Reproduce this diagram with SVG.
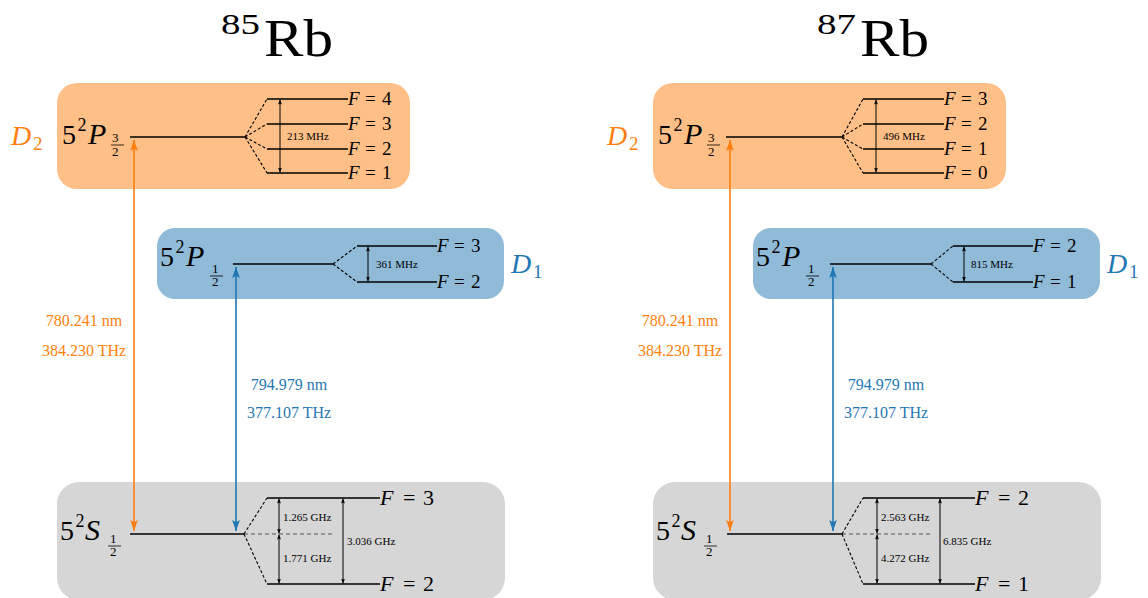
<svg xmlns="http://www.w3.org/2000/svg" width="1148" height="598" viewBox="0 0 1148 598" font-family="'Liberation Serif', 'DejaVu Serif', serif">
<defs>
<style>
.it{font-style:italic}
.lvl{stroke:#000;stroke-width:1.5;fill:none}
.dash{stroke:#000;stroke-width:1.1;stroke-dasharray:3 2;fill:none}
.gdash{stroke:#555;stroke-width:1.1;stroke-dasharray:4 3;fill:none}
.hf{stroke:#000;stroke-width:1;fill:none;marker-start:url(#ak);marker-end:url(#ak)}
.big{font-size:28px}
.bigp{font-size:30px;font-style:italic}
.sup{font-size:18px}
.frac{font-size:13px}
.sm{font-size:11px}
.fl{font-size:19px}
.fg{font-size:22px}
.wl{font-size:16px;text-anchor:middle}
.or{fill:#ff7f0e}
.bl{fill:#1f77b4}
.tr-o{stroke:#ff7f0e;stroke-width:1.6;fill:none;marker-start:url(#ao);marker-end:url(#ao)}
.tr-b{stroke:#1f77b4;stroke-width:1.6;fill:none;marker-start:url(#ab);marker-end:url(#ab)}
.box-o{fill:#ffbf86}
.box-b{fill:#8fbbd9}
.box-g{fill:#d6d6d6}
</style>
<marker id="ak" viewBox="0 0 10 10" refX="10" refY="5" markerWidth="5" markerHeight="5" orient="auto-start-reverse" markerUnits="userSpaceOnUse"><path d="M0,1 L10,5 L0,9 L2,5 z" fill="#000"/></marker>
<marker id="ao" viewBox="0 0 10 10" refX="10" refY="5" markerWidth="11" markerHeight="11" orient="auto-start-reverse" markerUnits="userSpaceOnUse"><path d="M0,1.5 L10,5 L0,8.5 L2,5 z" fill="#ff7f0e"/></marker>
<marker id="ab" viewBox="0 0 10 10" refX="10" refY="5" markerWidth="11" markerHeight="11" orient="auto-start-reverse" markerUnits="userSpaceOnUse"><path d="M0,1.5 L10,5 L0,8.5 L2,5 z" fill="#1f77b4"/></marker>
</defs>

<!-- ===== 85Rb ===== -->
<g id="title-85">
<text x="221" y="34" font-size="30" textLength="39" lengthAdjust="spacingAndGlyphs">85</text>
<text x="264" y="56" font-size="52" textLength="69" lengthAdjust="spacingAndGlyphs">Rb</text>
</g>

<g id="D2-85">
<rect class="box-o" x="57" y="83" width="353" height="106" rx="20"/>
<text class="big or" y="145"><tspan class="it" x="11">D</tspan><tspan x="33" y="150" font-size="19">2</tspan></text>
<text class="big" x="62" y="144">5</text>
<text class="sup" x="77.5" y="131">2</text>
<text class="bigp" x="88" y="144">P</text>
<text class="frac" x="112" y="142">3</text>
<line x1="111" y1="145" x2="124" y2="145" stroke="#000" stroke-width="0.8"/>
<text class="frac" x="112" y="156">2</text>
<line class="lvl" x1="130" y1="137" x2="245" y2="137"/>
<path class="dash" d="M245,137 L267,99 M245,137 L267,124 M245,137 L267,149 M245,137 L267,173"/>
<path class="lvl" d="M267,99 H348 M267,124 H348 M267,149 H348 M267,173 H348"/>
<line class="hf" x1="280" y1="99.5" x2="280" y2="172.5"/>
<text class="sm" x="287" y="140">213 MHz</text>
<text class="fl" y="105"><tspan class="it" x="348">F</tspan><tspan x="365">=</tspan><tspan x="382">4</tspan></text>
<text class="fl" y="130"><tspan class="it" x="348">F</tspan><tspan x="365">=</tspan><tspan x="382">3</tspan></text>
<text class="fl" y="155"><tspan class="it" x="348">F</tspan><tspan x="365">=</tspan><tspan x="382">2</tspan></text>
<text class="fl" y="179"><tspan class="it" x="348">F</tspan><tspan x="365">=</tspan><tspan x="382">1</tspan></text>
</g>

<g id="D1-85">
<rect class="box-b" x="157" y="228" width="347" height="71" rx="18"/>
<text class="big bl" y="273"><tspan class="it" x="511">D</tspan><tspan x="533" y="278" font-size="19">1</tspan></text>
<text class="big" x="160" y="266">5</text>
<text class="sup" x="175.5" y="253">2</text>
<text class="bigp" x="186" y="266">P</text>
<text class="frac" x="212" y="273">1</text>
<line x1="210" y1="276" x2="223" y2="276" stroke="#000" stroke-width="0.8"/>
<text class="frac" x="212" y="286">2</text>
<line class="lvl" x1="233" y1="264" x2="333" y2="264"/>
<path class="dash" d="M333,264 L357,246 M333,264 L357,282"/>
<path class="lvl" d="M357,246 H437 M357,282 H437"/>
<line class="hf" x1="368" y1="246.5" x2="368" y2="281.5"/>
<text class="sm" x="376" y="268">361 MHz</text>
<text class="fl" y="252"><tspan class="it" x="437">F</tspan><tspan x="454">=</tspan><tspan x="471">3</tspan></text>
<text class="fl" y="288"><tspan class="it" x="437">F</tspan><tspan x="454">=</tspan><tspan x="471">2</tspan></text>
</g>

<g id="S-85">
<rect class="box-g" x="57" y="482" width="448" height="118" rx="22"/>
<text class="big" x="60" y="540">5</text>
<text class="sup" x="75.5" y="527">2</text>
<text class="bigp" x="85" y="540">S</text>
<text class="frac" x="110" y="543">1</text>
<line x1="108" y1="546" x2="121" y2="546" stroke="#000" stroke-width="0.8"/>
<text class="frac" x="110" y="556">2</text>
<line class="lvl" x1="130" y1="534" x2="244" y2="534"/>
<line class="gdash" x1="244" y1="534" x2="335" y2="534"/>
<path class="dash" d="M244,534 L267,498 M244,534 L267,584"/>
<path class="lvl" d="M267,498 H380 M267,584 H380"/>
<line class="hf" x1="279" y1="498.5" x2="279" y2="533.5"/>
<line class="hf" x1="279" y1="534.5" x2="279" y2="583.5"/>
<line class="hf" x1="343" y1="498.5" x2="343" y2="583.5"/>
<text class="sm" x="283" y="521">1.265 GHz</text>
<text class="sm" x="283" y="562">1.771 GHz</text>
<text class="sm" x="347" y="545">3.036 GHz</text>
<text class="fg" y="505"><tspan class="it" x="380">F</tspan><tspan x="403">=</tspan><tspan x="423">3</tspan></text>
<text class="fg" y="591"><tspan class="it" x="380">F</tspan><tspan x="403">=</tspan><tspan x="423">2</tspan></text>
</g>

<g id="connectors-85">
<line class="tr-o" x1="134" y1="140" x2="134" y2="531"/>
<line class="tr-b" x1="236" y1="267" x2="236" y2="531"/>
<text class="wl or" x="84" y="326">780.241 nm</text>
<text class="wl or" x="84" y="356">384.230 THz</text>
<text class="wl bl" x="289" y="390">794.979 nm</text>
<text class="wl bl" x="289" y="418">377.107 THz</text>
</g>

<!-- ===== 87Rb ===== -->
<g transform="translate(596,0)">
<g id="title-87">
<text x="221" y="34" font-size="30" textLength="39" lengthAdjust="spacingAndGlyphs">87</text>
<text x="264" y="56" font-size="52" textLength="69" lengthAdjust="spacingAndGlyphs">Rb</text>
</g>

<g id="D2-87">
<rect class="box-o" x="57" y="83" width="353" height="106" rx="20"/>
<text class="big or" y="145"><tspan class="it" x="11">D</tspan><tspan x="33" y="150" font-size="19">2</tspan></text>
<text class="big" x="62" y="144">5</text>
<text class="sup" x="77.5" y="131">2</text>
<text class="bigp" x="88" y="144">P</text>
<text class="frac" x="112" y="142">3</text>
<line x1="111" y1="145" x2="124" y2="145" stroke="#000" stroke-width="0.8"/>
<text class="frac" x="112" y="156">2</text>
<line class="lvl" x1="130" y1="137" x2="246" y2="137"/>
<path class="dash" d="M246,137 L267,99 M246,137 L267,124 M246,137 L267,149 M246,137 L267,173"/>
<path class="lvl" d="M267,99 H348 M267,124 H348 M267,149 H348 M267,173 H348"/>
<line class="hf" x1="280" y1="99.5" x2="280" y2="172.5"/>
<text class="sm" x="287" y="140">496 MHz</text>
<text class="fl" y="105"><tspan class="it" x="348">F</tspan><tspan x="365">=</tspan><tspan x="382">3</tspan></text>
<text class="fl" y="130"><tspan class="it" x="348">F</tspan><tspan x="365">=</tspan><tspan x="382">2</tspan></text>
<text class="fl" y="155"><tspan class="it" x="348">F</tspan><tspan x="365">=</tspan><tspan x="382">1</tspan></text>
<text class="fl" y="179"><tspan class="it" x="348">F</tspan><tspan x="365">=</tspan><tspan x="382">0</tspan></text>
</g>

<g id="D1-87">
<rect class="box-b" x="157" y="228" width="347" height="71" rx="18"/>
<text class="big bl" y="273"><tspan class="it" x="511">D</tspan><tspan x="533" y="278" font-size="19">1</tspan></text>
<text class="big" x="160" y="266">5</text>
<text class="sup" x="175.5" y="253">2</text>
<text class="bigp" x="186" y="266">P</text>
<text class="frac" x="212" y="273">1</text>
<line x1="210" y1="276" x2="223" y2="276" stroke="#000" stroke-width="0.8"/>
<text class="frac" x="212" y="286">2</text>
<line class="lvl" x1="234" y1="264" x2="335" y2="264"/>
<path class="dash" d="M335,264 L357,246 M335,264 L357,282"/>
<path class="lvl" d="M357,246 H437 M357,282 H437"/>
<line class="hf" x1="368" y1="246.5" x2="368" y2="281.5"/>
<text class="sm" x="375" y="268">815 MHz</text>
<text class="fl" y="252"><tspan class="it" x="437">F</tspan><tspan x="454">=</tspan><tspan x="471">2</tspan></text>
<text class="fl" y="288"><tspan class="it" x="437">F</tspan><tspan x="454">=</tspan><tspan x="471">1</tspan></text>
</g>

<g id="S-87">
<rect class="box-g" x="57" y="482" width="448" height="118" rx="22"/>
<text class="big" x="60" y="540">5</text>
<text class="sup" x="75.5" y="527">2</text>
<text class="bigp" x="85" y="540">S</text>
<text class="frac" x="110" y="543">1</text>
<line x1="108" y1="546" x2="121" y2="546" stroke="#000" stroke-width="0.8"/>
<text class="frac" x="110" y="556">2</text>
<line class="lvl" x1="131" y1="534" x2="246" y2="534"/>
<line class="gdash" x1="246" y1="534" x2="336" y2="534"/>
<path class="dash" d="M246,534 L267,498 M246,534 L267,584"/>
<path class="lvl" d="M267,498 H379 M267,584 H379"/>
<line class="hf" x1="281" y1="498.5" x2="281" y2="533.5"/>
<line class="hf" x1="281" y1="534.5" x2="281" y2="583.5"/>
<line class="hf" x1="344" y1="498.5" x2="344" y2="583.5"/>
<text class="sm" x="285" y="521">2.563 GHz</text>
<text class="sm" x="285" y="562">4.272 GHz</text>
<text class="sm" x="347" y="545">6.835 GHz</text>
<text class="fg" y="505"><tspan class="it" x="379">F</tspan><tspan x="402">=</tspan><tspan x="422">2</tspan></text>
<text class="fg" y="591"><tspan class="it" x="379">F</tspan><tspan x="402">=</tspan><tspan x="422">1</tspan></text>
</g>

<g id="connectors-87">
<line class="tr-o" x1="134" y1="140" x2="134" y2="531"/>
<line class="tr-b" x1="237" y1="267" x2="237" y2="531"/>
<text class="wl or" x="84" y="326">780.241 nm</text>
<text class="wl or" x="84" y="356">384.230 THz</text>
<text class="wl bl" x="290" y="390">794.979 nm</text>
<text class="wl bl" x="290" y="418">377.107 THz</text>
</g>
</g>
</svg>
